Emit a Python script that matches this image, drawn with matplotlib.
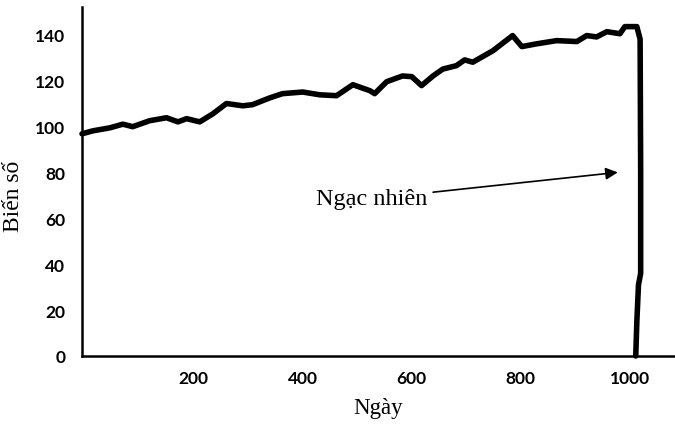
import matplotlib.pyplot as plt

# values
days = [-5, 15, 46, 70, 88, 119, 150, 171, 187, 211, 235, 260, 290, 308, 340,
        363, 400, 431, 462, 492, 523, 532, 554, 583, 600, 618, 639, 657, 682,
        697, 712, 749, 785, 802, 829, 866, 903, 921, 939, 958, 982, 991, 1013,
        1019, 1020, 1020, 1016, 1013, 1011]
values = [96.8, 98.1, 99.4, 101, 99.9, 102.5, 103.8, 102, 103.4, 102, 105.5,
          110, 109, 109.5, 112.5, 114.3, 115, 113.8, 113.4, 118.2, 115.6,
          114.3, 119.5, 122, 121.7, 117.8, 122, 125, 126.5, 129, 128, 133,
          139.6, 134.8, 136, 137.4, 137, 139.6, 139, 141.3, 140.4, 143.5,
          143.5, 138, 80, 36, 31, 15, 0]

x_ticks = [200, 400, 600, 800, 1000]
y_ticks = [0, 20, 40, 60, 80, 100, 120, 140]

serif = ['Liberation Serif', 'DejaVu Serif']
tick_font = {'family': ['Lato', 'DejaVu Sans'], 'weight': 'bold', 'size': 12.5}

fig = plt.figure(figsize=(6.75, 4.27), dpi=100)
ax = fig.add_axes([0.1215, 0.164, 0.8785, 0.817])

ax.plot(days, values, color='black', linewidth=4, solid_joinstyle='round',
        solid_capstyle='round', clip_on=False)

ax.set_xlim(-5, 1083)
ax.set_ylim(0, 152)
ax.set_xticks(x_ticks)
ax.set_yticks(y_ticks)
ax.set_xticklabels([str(t) for t in x_ticks], fontdict=tick_font)
ax.set_yticklabels([str(t) for t in y_ticks], fontdict=tick_font)
ax.tick_params(axis='both', length=0)
ax.tick_params(axis='x', pad=10)
ax.tick_params(axis='y', pad=12)

for side in ['top', 'right']:
    ax.spines[side].set_visible(False)
ax.spines['left'].set_linewidth(1.8)
ax.spines['bottom'].set_linewidth(1.8)

ax.set_xlabel('Ngày', family=serif, fontsize=16.5, labelpad=8)
ax.set_ylabel('Biến số', family=serif, fontsize=17)
ax.yaxis.set_label_coords(-0.097, 0.46)

ax.annotate('Ngạc nhiên', xy=(978, 80), xytext=(629, 68.5),
            ha='right', va='center', family=serif, fontsize=17.5,
            arrowprops=dict(arrowstyle='-|>', color='black', lw=1.2,
                            mutation_scale=18, shrinkA=2, shrinkB=0))

plt.savefig('out.png', dpi=100)
